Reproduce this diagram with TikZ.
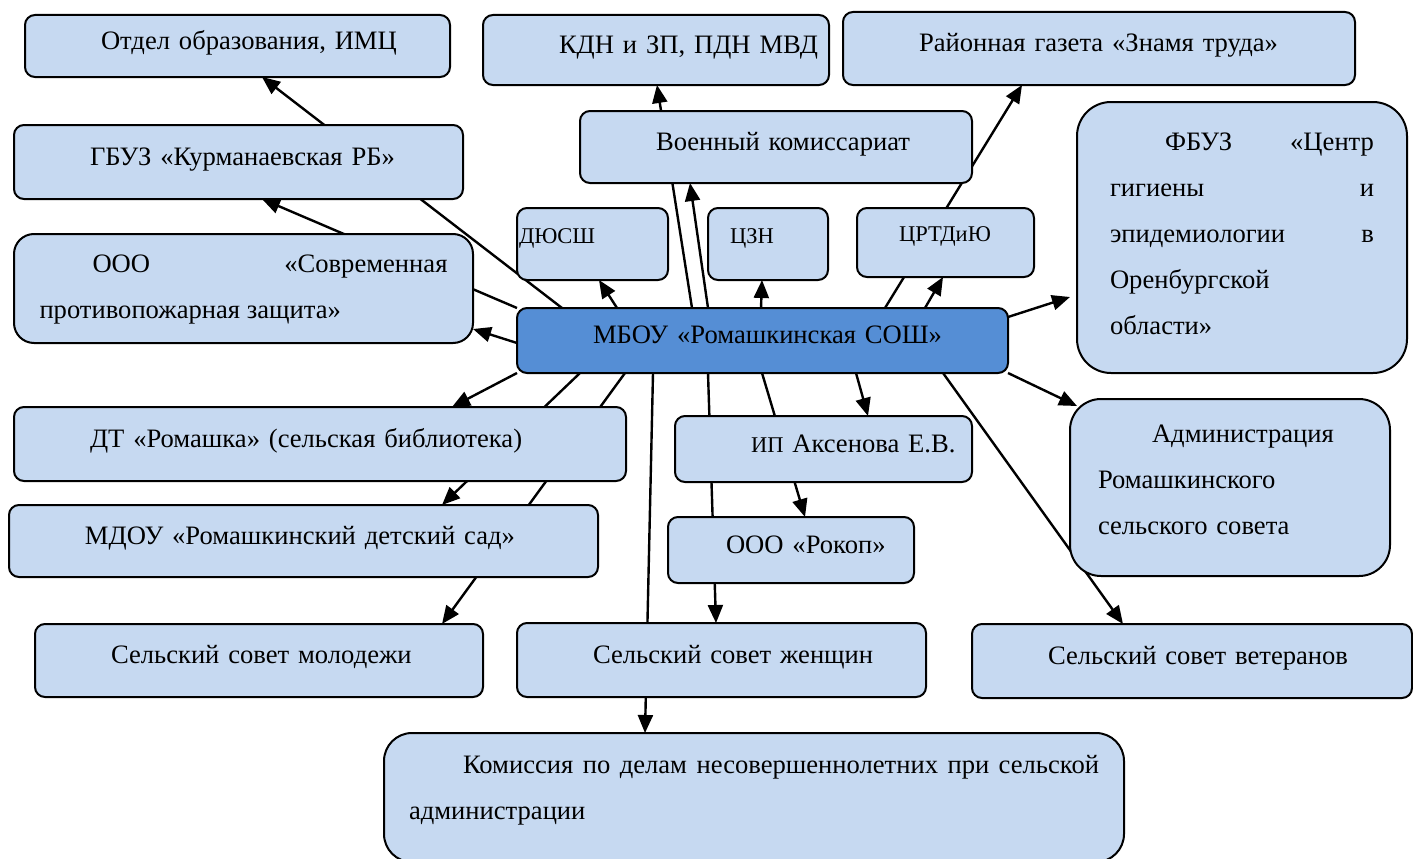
\documentclass[tikz,border=0pt]{standalone}
\usepackage{fontspec}
\setmainfont{Liberation Serif}
\usetikzlibrary{arrows.meta}
\pgfdeclarelayer{background}
\pgfsetlayers{background,main}
\definecolor{boxblue}{RGB}{198,217,241}
\definecolor{mainblue}{RGB}{85,142,213}

\begin{document}
\begin{tikzpicture}[x=1pt, y=-1pt,
  org/.style={draw=black, line width=2pt, fill=boxblue, rounded corners=10pt,
    inner sep=0pt, outer sep=0pt, align=left, text height=20pt, text depth=14pt,
    font=\fontsize{26.6}{46}\selectfont},
  smallline/.style={font=\fontsize{22.5}{27}\selectfont, text height=14pt, text depth=16pt},
  link/.style={line width=2.4pt, -{Triangle[length=18pt, width=15pt]}}]
  % page frame, one unit is one pixel of the scheme
  \useasboundingbox (0,0) rectangle (1413,859);
  % a box from its corners: name, x1, y1, x2, y2, options, text
  \def\orgbox#1#2#3#4#5#6#7{
    \pgfmathsetmacro\bw{#4-#2}
    \pgfmathsetmacro\bh{#5-#3}
    \node[org, minimum width=\bw pt, minimum height=\bh pt, text width=\bw pt, #6]
      (#1) at ({(#2+#4)/2},{(#3+#5)/2}) {#7};
  }
  \def\ind{\hspace*{76pt}}
  \def\smallsz{\fontsize{22.5}{27}\selectfont}

  % upper row
  \orgbox{otdel}{25}{15}{450}{77}{}{\ind Отдел образования, ИМЦ}
  \orgbox{kdn}{483}{15}{829}{85}{}{\ind КДН и ЗП, ПДН МВД}
  \orgbox{gazeta}{843}{12}{1355}{85}{}{\ind Районная газета «Знамя труда»}
  \orgbox{gbuz}{14}{125}{463}{199}{}{\ind ГБУЗ «Курманаевская РБ»}
  \orgbox{voen}{580}{111}{972}{183}{}{\ind Военный комиссариат}
  \orgbox{spz}{14}{234}{473}{343}{text width=408pt, align=justify, rounded corners=20pt,
    text height=19pt, text depth=52pt}{\hspace*{53pt}ООО «Современная\linebreak противопожарная защита»}
  \orgbox{dyussh}{517}{208}{668}{280}{smallline}{\hspace*{2pt}ДЮСШ}
  \orgbox{czn}{708}{208}{828}{280}{smallline}{\hspace*{22pt}ЦЗН}
  \orgbox{crtd}{857}{208}{1034}{277}{smallline}{\hspace*{42pt}ЦРТДиЮ}
  \orgbox{fbuz}{1077}{102}{1407}{373}{text width=264pt, align=justify, rounded corners=34pt,
    text height=19pt, text depth=194pt}{\hspace*{55pt}ФБУЗ «Центр\linebreak гигиены и\linebreak
    эпидемиологии в\linebreak Оренбургской\newline области»}

  % the school
  \orgbox{mbou}{517}{308}{1008}{373}{fill=mainblue}{\ind МБОУ «Ромашкинская СОШ»}

  % lower rows
  \orgbox{dt}{14}{407}{626}{481}{}{\ind ДТ «Ромашка» (сельская библиотека)}
  \orgbox{ip}{675}{416}{972}{482}{}{\ind{\smallsz ИП} Аксенова Е.В.}
  \orgbox{admin}{1070}{399}{1390}{576}{text width=264pt, rounded corners=31pt,
    text height=19pt, text depth=110pt}{\hspace*{54pt}Администрация\\Ромашкинского\\сельского совета}
  \orgbox{mdou}{9}{505}{598}{577}{}{\ind МДОУ «Ромашкинский детский сад»}
  \orgbox{rokop}{668}{517}{914}{583}{}{\hspace*{58pt}ООО «Рокоп»}
  \orgbox{molod}{35}{624}{483}{697}{}{\ind Сельский совет молодежи}
  \orgbox{zhensh}{517}{623}{926}{697}{}{\ind Сельский совет женщин}
  \orgbox{veter}{972}{624}{1412}{698}{}{\ind Сельский совет ветеранов}
  \orgbox{komis}{384}{733}{1124}{862}{text width=690pt, align=justify, rounded corners=28pt,
    text height=19pt, text depth=67pt}{\hspace*{54pt}Комиссия по делам несовершеннолетних при сельской\linebreak администрации}

  % links from the school, behind the boxes
  \begin{pgfonlayer}{background}
    \draw[link] ([xshift=45pt]mbou.north west) -- ([xshift=237pt]otdel.south west);
    \draw[link] (mbou.north west) -- ([xshift=248pt]gbuz.south west);
    \draw[link] ([yshift=-35pt]mbou.north west) -- ([yshift=-95pt]spz.north east);
    \draw[link] ([xshift=100pt]mbou.north west) -- ([xshift=82pt]dyussh.south west);
    \draw[link] ([xshift=175pt]mbou.north west) -- ([xshift=174pt]kdn.south west);
    \draw[link] ([xshift=191pt]mbou.north west) -- ([xshift=110pt]voen.south west);
    \draw[link] ([xshift=244pt]mbou.north west) -- ([xshift=54pt]czn.south west);
    \draw[link] ([xshift=368pt]mbou.north west) -- ([xshift=179pt]gazeta.south west);
    \draw[link] ([xshift=408pt]mbou.north west) -- ([xshift=86pt]crtd.south west);
    \draw[link] ([yshift=-9pt]mbou.north east) -- ([xshift=-7pt, yshift=-195pt]fbuz.north west);
    \draw[link] (mbou.south east) -- ([xshift=7pt, yshift=-7pt]admin.north west);
    \draw[link] ([xshift=426pt]mbou.south west) -- ([xshift=151pt]veter.north west);
    \draw[link] ([xshift=339pt]mbou.south west) -- ([xshift=193pt]ip.north west);
    \draw[link] ([xshift=245pt]mbou.south west) -- ([xshift=137pt]rokop.north west);
    \draw[link] ([xshift=191pt]mbou.south west) -- ([xshift=199pt]zhensh.north west);
    \draw[link] ([xshift=136pt]mbou.south west) -- ([xshift=261pt]komis.north west);
    \draw[link] ([xshift=108pt]mbou.south west) -- ([xshift=407pt]molod.north west);
    \draw[link] ([xshift=63pt]mbou.south west) -- ([xshift=433pt]mdou.north west);
    \draw[link] (mbou.south west) -- ([xshift=438pt]dt.north west);
  \end{pgfonlayer}
\end{tikzpicture}
\end{document}
